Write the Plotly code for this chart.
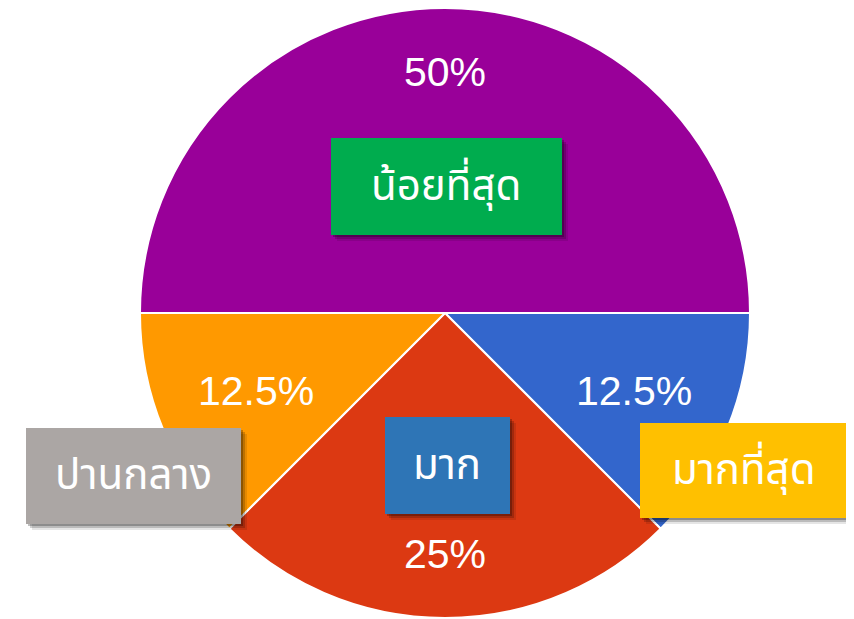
import math
import plotly.graph_objects as go

# ข้อมูลแบบสอบถาม (จำนวนผู้ตอบ)
labels = ['มากที่สุด', 'มาก', 'ปานกลาง', 'น้อยที่สุด']
values = [1, 2, 1, 4]
slice_colors = ['#3366CC', '#DC3912', '#FF9900', '#990099']

W, H = 854, 619
OFF = 8  # ระยะขอบ body ของหน้า html

# ตำแหน่งพายในหน้ากระดาษ
dom_x = [0.1522, 0.8712]
dom_y = [0.0145, 1.0]
rotation = 90

fig = go.Figure(go.Pie(
    labels=labels,
    values=values,
    sort=False,
    direction='clockwise',
    rotation=rotation,
    marker=dict(colors=slice_colors, line=dict(color='white', width=2)),
    textinfo='none',
    domain=dict(x=dom_x, y=dom_y),
    showlegend=False,
    hoverinfo='label+percent',
))


def px(x):
    return (x - OFF) / W


def py(y):
    return 1 - (y - OFF) / H


# ป้ายเปอร์เซ็นต์ คำนวณจากมุมกึ่งกลางของแต่ละชิ้น
cx = (dom_x[0] + dom_x[1]) / 2 * W
cy = (dom_y[0] + dom_y[1]) / 2 * H
rad = min((dom_x[1] - dom_x[0]) * W, (dom_y[1] - dom_y[0]) * H) / 2
total = sum(values)
annotations = []
start = 90 - rotation  # มุมเริ่ม (องศา ทวนเข็มจากแกน x)
for v in values:
    frac = v / total
    mid = math.radians(start - frac * 360 / 2)
    rf = 0.79 if frac >= 0.25 else 0.67
    annotations.append(dict(
        text='%g%%' % (frac * 100), xref='paper', yref='paper',
        x=(cx + rf * rad * math.cos(mid)) / W, y=(cy + rf * rad * math.sin(mid)) / H,
        xanchor='center', yanchor='middle', showarrow=False,
        font=dict(family='Liberation Sans, Arial, sans-serif', size=41, color='white')))
    start -= frac * 360

# กล่องป้ายชื่อ (ซ้าย, บน, ขวา, ล่าง เป็นพิกเซลบนภาพ) และสี
boxes = {
    'น้อยที่สุด': ((331, 138, 562, 235), '#00AC4E'),
    'ปานกลาง': ((26, 428, 241, 524), '#ABA6A4'),
    'มากที่สุด': ((640, 423, 848, 518), '#FFC000'),
    'มาก': ((385, 417, 510, 514), '#2E75B6'),
}

shapes = []
for name, ((x0, y0, x1, y1), col) in boxes.items():
    # เงาแบบง่าย
    for off, a in [(6, 0.10), (4, 0.18), (2, 0.25)]:
        shapes.append(dict(type='rect', xref='paper', yref='paper',
                           x0=px(x0 + off), x1=px(x1 + off), y0=py(y1 + off), y1=py(y0 + off),
                           fillcolor='rgba(0,0,0,%.2f)' % a, line=dict(width=0), layer='above'))
    shapes.append(dict(type='rect', xref='paper', yref='paper',
                       x0=px(x0), x1=px(x1), y0=py(y1), y1=py(y0),
                       fillcolor=col, line=dict(width=0), layer='above'))
    annotations.append(dict(text=name, xref='paper', yref='paper',
                            x=px((x0 + x1) / 2), y=py((y0 + y1) / 2),
                            xanchor='center', yanchor='middle', showarrow=False,
                            font=dict(family='Noto Sans Thai, Tahoma, Noto Sans, sans-serif',
                                      size=42, color='white')))

fig.update_layout(
    width=W, height=H,
    margin=dict(l=0, r=0, t=0, b=0),
    paper_bgcolor='white',
    plot_bgcolor='white',
    shapes=shapes,
    annotations=annotations,
)

fig.write_html("out.html")
